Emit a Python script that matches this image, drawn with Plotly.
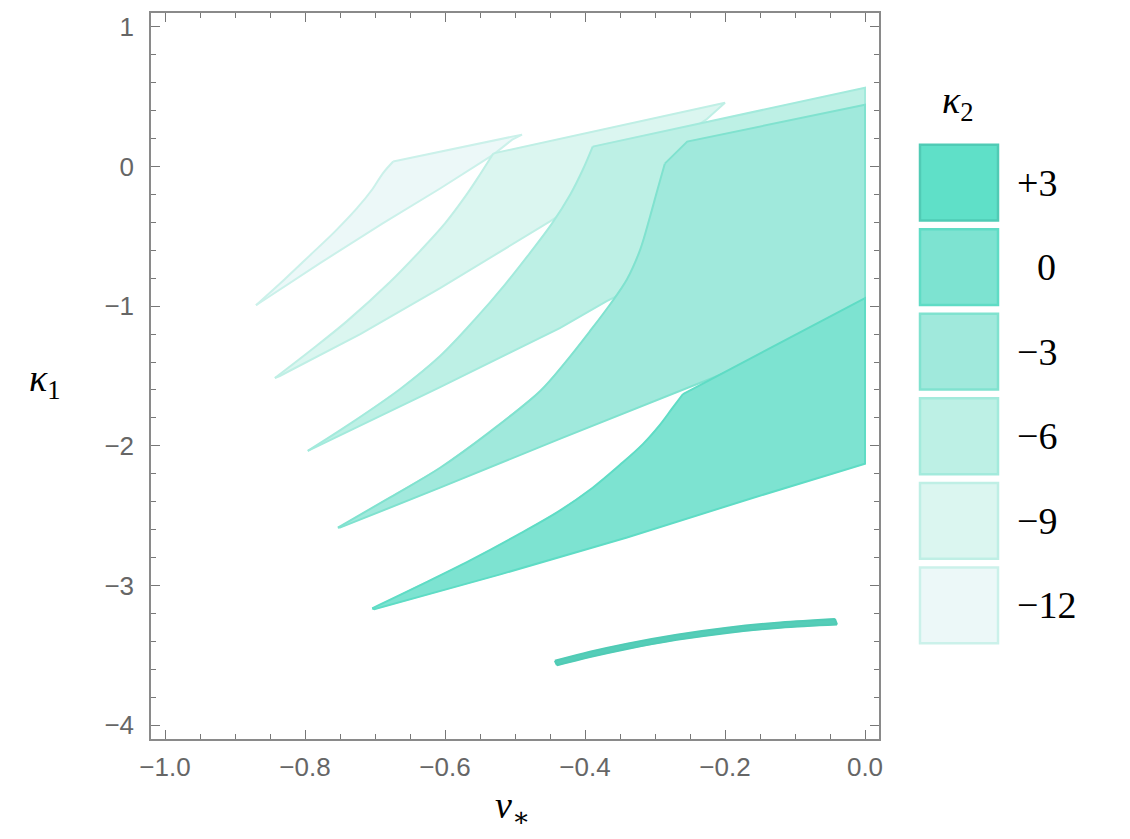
import plotly.graph_objects as go

# Allowed regions in the (nu_*, kappa_1) plane for several values of kappa_2.
# Each region is a closed outline: left tip -> upper curve -> top edge -> (x=0 edge) -> lower edge.

nu_m12 = [-0.870, -0.829, -0.793, -0.757, -0.726, -0.704, -0.689, -0.674,
          -0.490, -0.504, -0.531, -0.607, -0.689, -0.779, -0.861]
k1_m12 = [-0.993, -0.807, -0.636, -0.464, -0.300, -0.164, -0.050, 0.036,
          0.229, 0.193, 0.086, -0.157, -0.407, -0.693, -0.964]

nu_m9 = [-0.843, -0.793, -0.740, -0.679, -0.636, -0.600, -0.571, -0.550, -0.531, -0.526,
         -0.200, -0.227, -0.307, -0.379, -0.450, -0.607, -0.721, -0.836]
k1_m9 = [-1.514, -1.321, -1.107, -0.829, -0.607, -0.407, -0.214, -0.057, 0.093, 0.100,
         0.457, 0.336, 0.071, -0.164, -0.393, -0.871, -1.200, -1.500]

nu_m6 = [-0.796, -0.736, -0.664, -0.607, -0.557, -0.514, -0.479, -0.447, -0.421, -0.403, -0.389,
         0.000, 0.000, -0.207, -0.369, -0.436, -0.607, -0.793]
k1_m6 = [-2.036, -1.843, -1.593, -1.357, -1.093, -0.843, -0.621, -0.407, -0.200, -0.021, 0.143,
         0.564, -0.050, -0.560, -0.964, -1.157, -1.579, -2.029]

nu_m3 = [-0.753, -0.679, -0.607, -0.536, -0.464, -0.429, -0.393, -0.364, -0.340, -0.321,
         -0.307, -0.296, -0.286, -0.254, 0.000, 0.000, -0.211, -0.436, -0.607, -0.750]
k1_m3 = [-2.586, -2.371, -2.157, -1.900, -1.607, -1.407, -1.179, -0.986, -0.807, -0.593,
         -0.357, -0.157, 0.021, 0.179, 0.443, -1.079, -1.500, -1.950, -2.300, -2.586]

nu_0 = [-0.704, -0.636, -0.564, -0.493, -0.436, -0.389, -0.350, -0.317, -0.293, -0.276, -0.260,
        0.000, 0.000, -0.164, -0.340, -0.521, -0.701]
k1_0 = [-3.164, -3.000, -2.821, -2.629, -2.464, -2.300, -2.136, -1.986, -1.850, -1.736, -1.629,
        -0.943, -2.129, -2.379, -2.657, -2.921, -3.171]

nu_p3 = [-0.443, -0.393, -0.340, -0.269, -0.197, -0.121, -0.043,
         -0.040, -0.121, -0.197, -0.269, -0.340, -0.393, -0.440]
k1_p3 = [-3.540, -3.475, -3.417, -3.353, -3.303, -3.265, -3.240,
         -3.280, -3.303, -3.340, -3.390, -3.455, -3.513, -3.572]

kappa2_labels = ["+3", "0", "\u22123", "\u22126", "\u22129", "\u221212"]

# fill / edge colours, darkest (kappa_2 = +3) to lightest (kappa_2 = -12)
fill_colors = ["#5fe0c8", "#7de3d1", "#a0e9dc", "#bdf0e5", "#dbf6f0", "#ecf8f8"]
edge_colors = ["#50cbb5", "#5fdcc5", "#80e2cf", "#a3eadc", "#bfefe5", "#cbf1ea"]

# (outline, legend index, index ranges of the outline that are smooth curves)
regions = [
    (nu_m12, k1_m12, 5, [(0, 7)]),
    (nu_m9, k1_m9, 4, [(0, 8)]),
    (nu_m6, k1_m6, 3, [(0, 10)]),
    (nu_m3, k1_m3, 2, [(0, 12)]),
    (nu_0, k1_0, 1, [(0, 10)]),
    (nu_p3, k1_p3, 0, [(0, 6), (7, 13)]),
]


def outline_pieces(n, curved):
    """Split a closed outline of n vertices into curved and straight index runs."""
    pieces = [(list(range(a, b + 1)), "spline") for a, b in curved]
    for k, (a, b) in enumerate(curved):
        nxt = curved[(k + 1) % len(curved)][0]
        idx = list(range(b, n)) + list(range(0, nxt + 1)) if nxt <= b else list(range(b, nxt + 1))
        if len(idx) > 1:
            pieces.append((idx, "linear"))
    return pieces


fig = go.Figure()
for xs, ys, idx, curved in regions:
    fill = fill_colors[idx] if idx != 0 else "#55cdb8"
    fig.add_trace(go.Scatter(
        x=xs + [xs[0]], y=ys + [ys[0]],
        mode="lines", fill="toself", fillcolor=fill,
        line=dict(color=fill, width=0.5),
        showlegend=False, hoverinfo="skip",
    ))
    for ids, shape in outline_pieces(len(xs), curved):
        fig.add_trace(go.Scatter(
            x=[xs[i] for i in ids], y=[ys[i] for i in ids],
            mode="lines",
            line=dict(color=edge_colors[idx], width=2, shape=shape,
                      **({"smoothing": 1.0} if shape == "spline" else {})),
            showlegend=False, hoverinfo="skip",
        ))

# plot-area geometry in pixels
W, H = 1130, 839
L, R, T, B = 151, 251, 11, 100
PW, PH = W - L - R, H - T - B


def px_x(p):
    return (p - L) / PW


def px_y(p):
    return (H - B - p) / PH


axis_common = dict(
    showgrid=False, zeroline=False,
    showline=True, linecolor="#8a8a8a", linewidth=1.5, mirror="allticks",
    ticks="inside", ticklen=9, tickwidth=1.2, tickcolor="#777777",
    tickfont=dict(family="Liberation Sans, Arial, sans-serif", size=26, color="#666666"),
)

fig.update_xaxes(
    range=[-1.02, 0.02], tickmode="array",
    tickvals=[-1.0, -0.8, -0.6, -0.4, -0.2, 0.0],
    ticktext=["\u22121.0", "\u22120.8", "\u22120.6", "\u22120.4", "\u22120.2", "0.0"],
    minor=dict(dtick=0.05, tick0=0, ticks="inside", ticklen=5, tickwidth=1, tickcolor="#777777"),
    ticklabelstandoff=4,
    **axis_common,
)
fig.update_yaxes(
    range=[-4.1, 1.1], tickmode="array",
    tickvals=[-4, -3, -2, -1, 0, 1],
    ticktext=["\u22124", "\u22123", "\u22122", "\u22121", "0", "1"],
    minor=dict(dtick=0.2, tick0=0, ticks="inside", ticklen=5, tickwidth=1, tickcolor="#777777"),
    ticklabelstandoff=10,
    **axis_common,
)

serif = "Liberation Serif, DejaVu Serif, serif"
annotations = [
    dict(x=px_x(45), y=px_y(380), text="<i>\u03ba</i><sub>1</sub>"),
    dict(x=px_x(512), y=px_y(808), text="<i>\u03bd</i><sub>\u2217</sub>"),
    dict(x=px_x(958), y=px_y(101), text="<i>\u03ba</i><sub>2</sub>"),
]
for a in annotations:
    a.update(xref="paper", yref="paper", showarrow=False,
             font=dict(family=serif, size=38, color="black"),
             xanchor="center", yanchor="middle")

# legend swatches and labels
shapes = []
sw_left, sw_right, sw_top0, sw_h, sw_step = 920, 998, 143, 76, 84.8
for i, lab in enumerate(kappa2_labels):
    top = sw_top0 + i * sw_step
    shapes.append(dict(
        type="rect", xref="paper", yref="paper",
        x0=px_x(sw_left), x1=px_x(sw_right), y0=px_y(top + sw_h), y1=px_y(top),
        fillcolor=fill_colors[i], line=dict(color=edge_colors[i], width=2.5),
    ))
    cy = top + sw_h / 2
    if lab == "0":
        annotations.append(dict(x=px_x(1046), y=px_y(cy), text=lab, xanchor="center"))
    else:
        annotations.append(dict(x=px_x(1015), y=px_y(cy), text=lab, xanchor="left"))
    annotations[-1].update(xref="paper", yref="paper", showarrow=False, yanchor="middle",
                           font=dict(family=serif, size=38, color="black"))

fig.update_layout(
    width=W, height=H,
    margin=dict(l=L, r=R, t=T, b=B),
    plot_bgcolor="white", paper_bgcolor="white",
    shapes=shapes, annotations=annotations,
    showlegend=False,
)

fig.write_html("out.html")
